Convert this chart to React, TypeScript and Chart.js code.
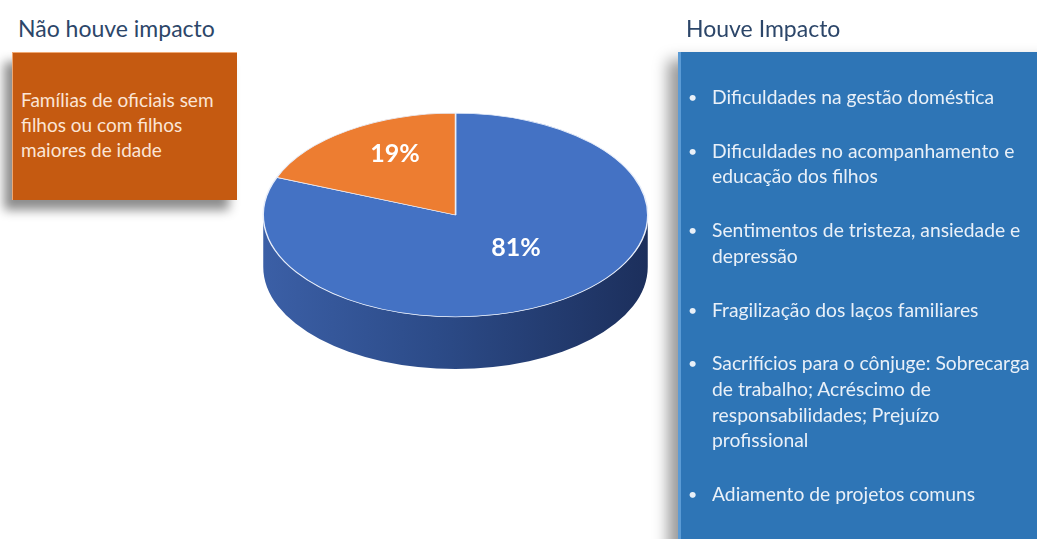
import React, { useEffect, useRef } from "react";
import { Chart, registerables } from "chart.js";

Chart.register(...registerables);

const sliceLabels: string[] = ["Houve Impacto", "Não houve impacto"];
const sliceValues: number[] = [81, 19];
const sliceColors: string[] = ["#4472C4", "#ED7D31"];
const leftTitle = "Não houve impacto";
const leftLines: string[] = ["Famílias de oficiais sem", "filhos ou com filhos", "maiores de idade"];
const rightTitle = "Houve Impacto";
const rightItems: string[][] = [
  ["Dificuldades na gestão doméstica"],
  ["Dificuldades no acompanhamento e", "educação dos filhos"],
  ["Sentimentos de tristeza, ansiedade e", "depressão"],
  ["Fragilização dos laços familiares"],
  ["Sacrifícios para o cônjuge: Sobrecarga", "de trabalho; Acréscimo de", "responsabilidades; Prejuízo", "profissional"],
  ["Adiamento de projetos comuns"],
];

const FONT = "Lato, 'Open Sans', sans-serif";
const Y_SCALE = 0.53;
const DEPTH = 52;
const LABEL_LIFT = 14;

const pie3d = {
  id: "pie3d",
  beforeDatasetsDraw(chart: any) {
    const arc = chart.getDatasetMeta(0).data[0];
    if (!arc) return;
    const { x: cx, y: cy, outerRadius: r } = arc;
    const ry = r * Y_SCALE;
    const ctx = chart.ctx;
    ctx.save();
    const g = ctx.createLinearGradient(cx - r, 0, cx + r, 0);
    g.addColorStop(0, "#3b5fa6");
    g.addColorStop(0.45, "#2c4b88");
    g.addColorStop(1, "#1c2f5c");
    ctx.beginPath();
    ctx.ellipse(cx, cy, r, ry, 0, 0, Math.PI, false);
    ctx.lineTo(cx - r, cy + DEPTH);
    ctx.ellipse(cx, cy + DEPTH, r, ry, 0, Math.PI, 0, true);
    ctx.closePath();
    ctx.fillStyle = g;
    ctx.fill();
    ctx.restore();
    ctx.save();
    ctx.translate(cx, cy);
    ctx.scale(1, Y_SCALE);
    ctx.translate(-cx, -cy);
  },
  afterDatasetsDraw(chart: any) {
    const ctx = chart.ctx;
    ctx.restore();
    const meta = chart.getDatasetMeta(0);
    const data = chart.data.datasets[0].data as number[];
    const total = data.reduce((a, b) => a + b, 0);
    ctx.save();
    ctx.fillStyle = "#ffffff";
    ctx.font = `bold 25px ${FONT}`;
    ctx.textAlign = "center";
    ctx.textBaseline = "middle";
    meta.data.forEach((a: any, i: number) => {
      const mid = (a.startAngle + a.endAngle) / 2;
      const rr = a.outerRadius * 0.56;
      const x = a.x + Math.cos(mid) * rr;
      const y = a.y + Math.sin(mid) * rr * Y_SCALE - LABEL_LIFT;
      ctx.fillText(Math.round((data[i] / total) * 100) + "%", x, y);
    });
    ctx.restore();
  },
};

export default function App() {
  const ref = useRef<HTMLCanvasElement>(null);
  useEffect(() => {
    document.body.style.margin = "0";
    const chart = new Chart(ref.current!, {
      type: "pie",
      data: {
        labels: sliceLabels,
        datasets: [
          {
            data: sliceValues,
            backgroundColor: sliceColors,
            borderColor: "#e8eefa",
            borderWidth: 1.5,
          },
        ],
      },
      options: {
        animation: false,
        responsive: false,
        layout: { padding: { left: 262, right: 388, top: 22, bottom: 131 } },
        plugins: { legend: { display: false }, tooltip: { enabled: false } },
      },
      plugins: [pie3d],
    });
    return () => chart.destroy();
  }, []);

  return (
    <div style={{ position: "fixed", left: 0, top: 0, width: 1037, height: 539, background: "#ffffff", overflow: "hidden", fontFamily: FONT }}>
      <div style={{ position: "absolute", left: 18, top: 14, fontSize: 23, color: "#2c4669", whiteSpace: "nowrap" }}>{leftTitle}</div>
      <div
        style={{
          position: "absolute",
          left: 12,
          top: 52,
          width: 225,
          height: 148,
          background: "#c55a11",
          borderTop: "1px solid #f0a872",
          borderLeft: "1px solid #f0a872",
          boxSizing: "border-box",
          boxShadow: "-8px 10px 10px rgba(0,0,0,0.45)",
          padding: "34px 0 0 8px",
          color: "#fbe5d6",
          fontSize: 19,
          lineHeight: "25px",
        }}
      >
        {leftLines.map((l, i) => (
          <div key={i} style={{ whiteSpace: "nowrap" }}>{l}</div>
        ))}
      </div>
      <canvas ref={ref} width={1037} height={539} style={{ position: "absolute", left: 0, top: 0 }} />
      <div style={{ position: "absolute", left: 686, top: 14, fontSize: 23, color: "#2c4669", whiteSpace: "nowrap" }}>{rightTitle}</div>
      <div
        style={{
          position: "absolute",
          left: 678,
          top: 52,
          width: 380,
          height: 520,
          background: "#2e75b6",
          borderLeft: "3px solid #5b9bd5",
          boxSizing: "border-box",
          boxShadow: "-10px 8px 14px rgba(0,0,0,0.4)",
          padding: "32px 0 0 0",
          color: "#e9f0f8",
          fontSize: 19.3,
          lineHeight: "25.7px",
        }}
      >
        {rightItems.map((item, i) => (
          <div key={i} style={{ position: "relative", paddingLeft: 31, marginBottom: 28 }}>
            <span style={{ position: "absolute", left: 7, top: 0, fontSize: 16 }}>•</span>
            {item.map((l, j) => (
              <div key={j} style={{ whiteSpace: "nowrap" }}>{l}</div>
            ))}
          </div>
        ))}
      </div>
    </div>
  );
}
